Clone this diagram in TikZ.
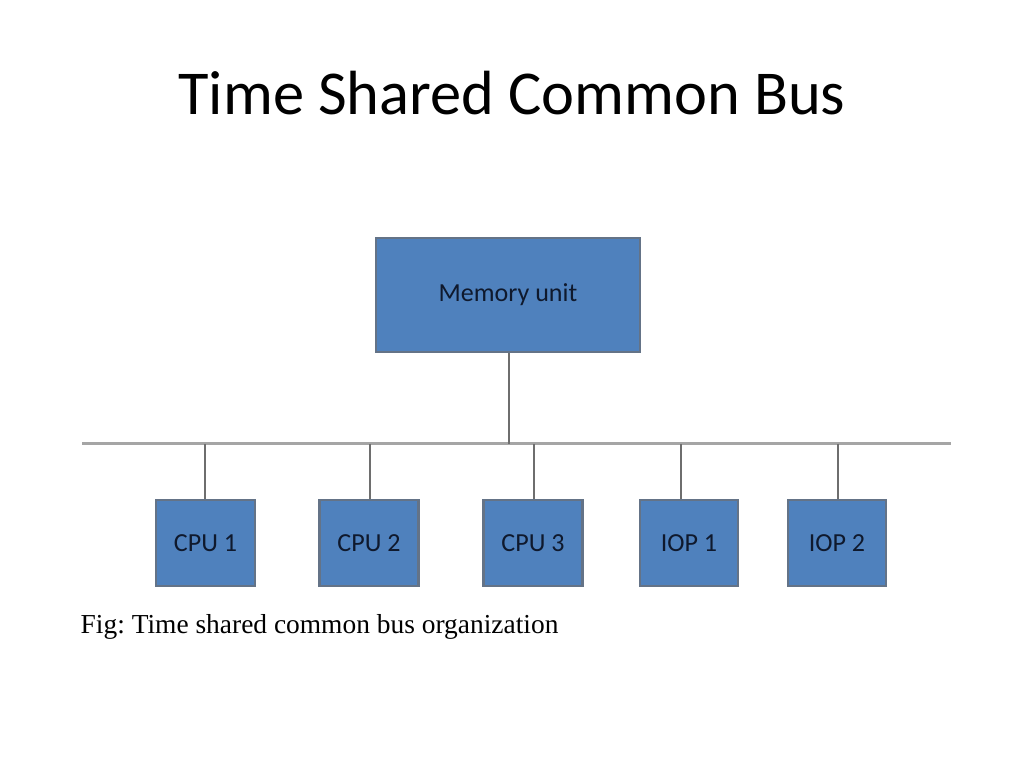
\documentclass[tikz,border=0pt]{standalone}
\usepackage{fontspec}
\setmainfont{Carlito}
\newfontfamily\capfont{Liberation Serif}
\definecolor{boxblue}{RGB}{79,129,189}
\definecolor{boxline}{RGB}{100,115,135}
\definecolor{boxtext}{RGB}{15,25,45}
\definecolor{busgray}{RGB}{165,165,165}
\definecolor{dropgray}{RGB}{110,110,110}

\tikzset{
	unitbox/.style = {draw = boxline, fill = boxblue, line width = 0.7pt, inner sep = 0pt,
		text = boxtext, font = \fontsize{7.4pt}{8.5pt}\selectfont},
	bus/.style = {busgray, line width = 0.85pt},
	drop/.style = {dropgray, line width = 0.6pt}
}

\begin{document}
\frenchspacing
\begin{tikzpicture}[x = 0.01cm, y = -0.01cm]
		\useasboundingbox (0, 0) rectangle (1024, 768);
		
		\node[anchor = base, font = \fontsize{17.75pt}{20pt}\selectfont] (title) at (512, 115) {Time Shared Common Bus};
		
		\node[unitbox, minimum width = 2.64cm, minimum height = 1.14cm] (mem) at (508, 295) {Memory unit};
		
		\node[unitbox, minimum width = 0.99cm, minimum height = 0.86cm] (cpu1) at (205.5, 543) {CPU 1};
		\node[unitbox, minimum width = 0.99cm, minimum height = 0.86cm] (cpu2) at (369, 543) {CPU 2};
		\node[unitbox, minimum width = 0.99cm, minimum height = 0.86cm] (cpu3) at (533, 543) {CPU 3};
		\node[unitbox, minimum width = 0.98cm, minimum height = 0.86cm] (iop1) at (689, 543) {IOP 1};
		\node[unitbox, minimum width = 0.98cm, minimum height = 0.86cm] (iop2) at (837, 543) {IOP 2};
		
		\coordinate (busL) at (82, 444);
		\coordinate (busR) at (951, 444);
		\draw[bus] (busL) -- (busR);
		
		\coordinate (tapm) at (509, 444);
		\draw[drop] (mem.south -| tapm) -- (tapm);
		
		\coordinate (tap1) at (205, 444);
		\coordinate (tap2) at (370, 444);
		\coordinate (tap3) at (534, 444);
		\coordinate (tap4) at (681, 444);
		\coordinate (tap5) at (838, 444);
		\draw[drop] (tap1) -- (tap1 |- cpu1.north);
		\draw[drop] (tap2) -- (tap2 |- cpu2.north);
		\draw[drop] (tap3) -- (tap3 |- cpu3.north);
		\draw[drop] (tap4) -- (tap4 |- iop1.north);
		\draw[drop] (tap5) -- (tap5 |- iop2.north);
		
		\node[anchor = base west, inner sep = 0pt, font = \capfont\fontsize{7.8pt}{9pt}\selectfont] (cap) at (80, 634) {Fig: Time shared common bus organization};
	\end{tikzpicture}
\end{document}
